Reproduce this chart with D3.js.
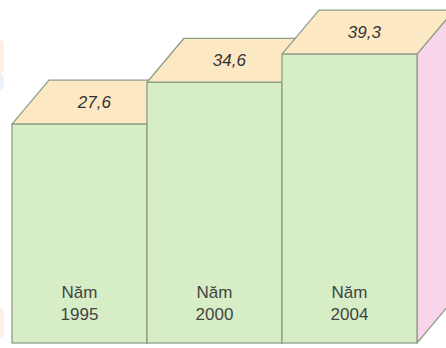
<!DOCTYPE html>
<html><head><meta charset="utf-8">
<script src="https://cdn.jsdelivr.net/npm/d3@7"></script>
<style>html,body{margin:0;padding:0;background:#fff;overflow:hidden}</style>
</head><body>
<svg id="c" width="446" height="348"></svg>
<script>
const years = ["1995", "2000", "2004"];
const values = [27.6, 34.6, 39.3];
const valueLabels = ["27,6", "34,6", "39,3"];
const prefix = "Năm";

const W = 446, H = 348;
const svg = d3.select("#c");
const dx = 37, dy = -44;
const x = d3.scaleBand().domain(years).range([12, 417]).padding(0);
const y = d3.scaleLinear().domain([-9, 40]).range([343, 50]);
const base = y(-9);

const fillFront = "#d6edc6", fillTop = "#fde8c4", fillSide = "#f9d5ec", strokeC = "#8f9e88";

// faint watermark traces on left edge
svg.append("rect").attr("x", -6).attr("y", 40).attr("width", 10).attr("height", 34).attr("rx", 5).attr("fill", "#fbe3d6").attr("opacity", 0.6);
svg.append("rect").attr("x", -6).attr("y", 74).attr("width", 10).attr("height", 16).attr("rx", 5).attr("fill", "#dfe9f5").attr("opacity", 0.6);
svg.append("rect").attr("x", -6).attr("y", 308).attr("width", 10).attr("height", 30).attr("rx", 5).attr("fill", "#fbe3d6").attr("opacity", 0.6);

const g = svg.append("g");
years.forEach((yr, i) => {
  const x0 = x(yr), x1 = x(yr) + x.bandwidth(), yt = y(values[i]);
  g.append("polygon")
    .attr("points", [[x1, yt], [x1 + dx, yt + dy], [x1 + dx, base + dy], [x1, base]].map(p => p.join(",")).join(" "))
    .attr("fill", fillSide).attr("stroke", strokeC).attr("stroke-width", 1.3).attr("stroke-linejoin", "round");
  g.append("polygon")
    .attr("points", [[x0, yt], [x1, yt], [x1 + dx, yt + dy], [x0 + dx, yt + dy]].map(p => p.join(",")).join(" "))
    .attr("fill", fillTop).attr("stroke", strokeC).attr("stroke-width", 1.3).attr("stroke-linejoin", "round");
  g.append("rect")
    .attr("x", x0).attr("y", yt).attr("width", x.bandwidth()).attr("height", base - yt)
    .attr("fill", fillFront).attr("stroke", strokeC).attr("stroke-width", 1.3);
});

years.forEach((yr, i) => {
  const cx = x(yr) + x.bandwidth() / 2, yt = y(values[i]);
  g.append("text")
    .attr("x", cx + dx * 0.4).attr("y", yt + dy / 2 + 6)
    .attr("text-anchor", "middle")
    .attr("font-family", "Liberation Sans, Arial, sans-serif")
    .attr("font-style", "italic").attr("font-size", 17).attr("fill", "#333")
    .text(valueLabels[i]);
  const t = g.append("text")
    .attr("text-anchor", "middle")
    .attr("font-family", "Liberation Sans, Arial, sans-serif")
    .attr("font-size", 17).attr("fill", "#444");
  t.append("tspan").attr("x", cx).attr("y", 298).text(prefix);
  t.append("tspan").attr("x", cx).attr("y", 320).text(yr);
});
</script>
</body></html>
